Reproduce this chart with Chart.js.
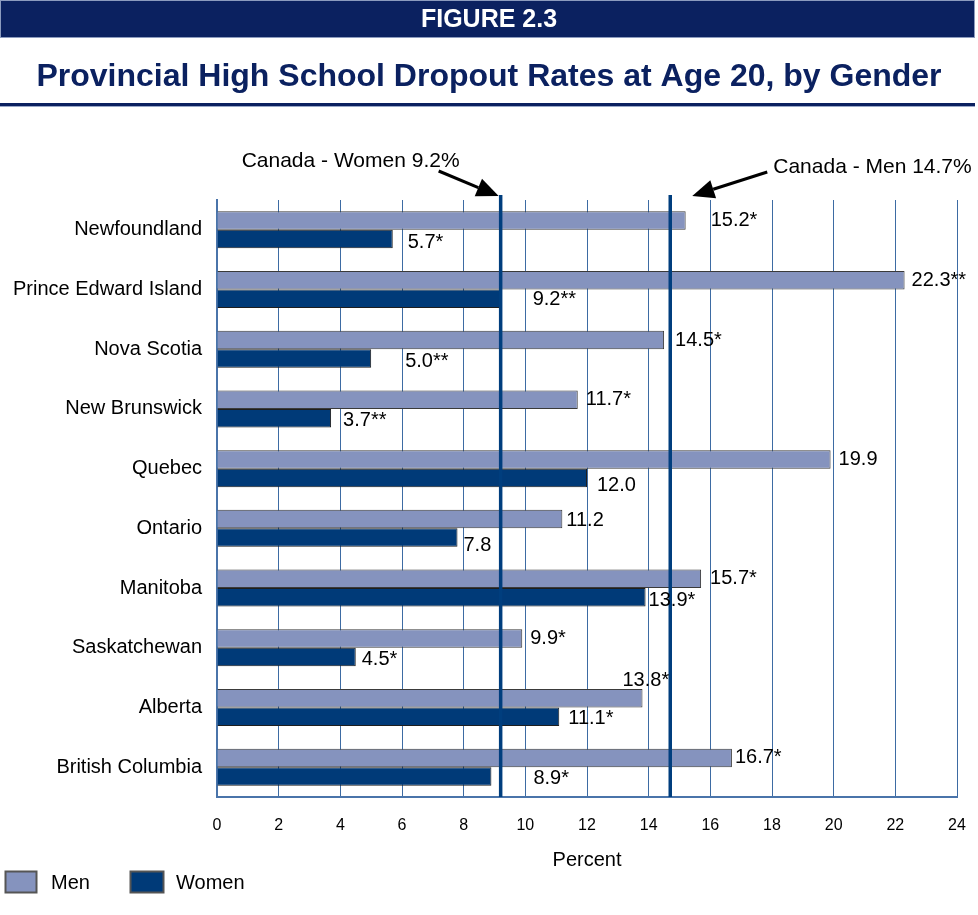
<!DOCTYPE html>
<html>
<head>
<meta charset="utf-8">
<title>Figure 2.3</title>
<script src="https://cdn.jsdelivr.net/npm/chart.js@4.4.0/dist/chart.umd.min.js"></script>
<style>
  html, body { margin: 0; padding: 0; background: #fff; }
  #wrap { width: 978px; height: 915px; }
</style>
</head>
<body>
<div id="wrap"><canvas id="chart" width="978" height="915"></canvas></div>
<script>
// Dropout rates at age 20, by province and gender (percent)
const provinces = [
    'Newfoundland', 'Prince Edward Island', 'Nova Scotia', 'New Brunswick', 'Quebec',
    'Ontario', 'Manitoba', 'Saskatchewan', 'Alberta', 'British Columbia'
];
const menRates = [15.2, 22.3, 14.5, 11.7, 19.9, 11.2, 15.7, 9.9, 13.8, 16.7];
const womenRates = [5.7, 9.2, 5.0, 3.7, 12.0, 7.8, 13.9, 4.5, 11.1, 8.9];
const menLabels = ['15.2*', '22.3**', '14.5*', '11.7*', '19.9', '11.2', '15.7*', '9.9*', '13.8*', '16.7*'];
const womenLabels = ['5.7*', '9.2**', '5.0**', '3.7**', '12.0', '7.8', '13.9*', '4.5*', '11.1*', '8.9*'];
const canadaMen = 14.7;
const canadaWomen = 9.2;
const percentTicks = [0, 2, 4, 6, 8, 10, 12, 14, 16, 18, 20, 22, 24];

const FONT = "'Liberation Sans', Arial, Helvetica, sans-serif";
const MEN_COLOR = '#8593BE';
const WOMEN_COLOR = '#003A78';
const NAVY = '#0B2160';
const LINE_BLUE = '#003E7E';

Chart.defaults.font.family = FONT;
Chart.defaults.color = '#000';

// label placement next to the bar ends: [dx, dy] per bar
const labelNudge = {
    men:   [[25, 0], [7, 0], [11, 0], [8, 0], [8, 0], [4, 1], [9, 0], [8, 0], [-20, -18], [3, 0]],
    women: [[15, 3], [32, 1], [34, 3], [12, 2], [10, 8], [6, 8], [3, 3], [6, 2], [9, 2], [42, 2]]
};

function drawArrow(ctx, x0, y0, x1, y1) {
    const ang = Math.atan2(y1 - y0, x1 - x0);
    const len = 22, half = 9.5;
    const bx = x1 - len * Math.cos(ang), by = y1 - len * Math.sin(ang);
    ctx.save();
    ctx.strokeStyle = '#000';
    ctx.fillStyle = '#000';
    ctx.lineWidth = 3;
    ctx.beginPath();
    ctx.moveTo(x0, y0);
    ctx.lineTo(bx, by);
    ctx.stroke();
    ctx.beginPath();
    ctx.moveTo(x1, y1);
    ctx.lineTo(bx + half * Math.sin(ang), by - half * Math.cos(ang));
    ctx.lineTo(bx - half * Math.sin(ang), by + half * Math.cos(ang));
    ctx.closePath();
    ctx.fill();
    ctx.restore();
}

const pageDecor = {
    id: 'pageDecor',
    beforeDraw(chart) {
        const ctx = chart.ctx;
        ctx.save();
        ctx.fillStyle = '#fff';
        ctx.fillRect(0, 0, chart.width, chart.height);

        // banner
        ctx.fillStyle = NAVY;
        ctx.fillRect(0, 0, 975, 37);
        ctx.strokeStyle = '#8C9BBE';
        ctx.lineWidth = 1;
        ctx.strokeRect(0.5, 0.5, 974, 37);
        ctx.fillStyle = '#fff';
        ctx.font = 'bold 25px ' + FONT;
        ctx.textAlign = 'center';
        ctx.textBaseline = 'middle';
        ctx.fillText('FIGURE 2.3', 489, 20);

        // title and rule
        ctx.fillStyle = NAVY;
        ctx.font = 'bold 32px ' + FONT;
        ctx.textBaseline = 'alphabetic';
        ctx.fillText('Provincial High School Dropout Rates at Age 20, by Gender', 489, 86);
        ctx.fillRect(0, 103, 975, 3);
        ctx.fillStyle = '#9AA8C8';
        ctx.fillRect(0, 106, 975, 1);
        ctx.restore();
    },
    afterDatasetsDraw(chart) {
        const ctx = chart.ctx;
        const x = chart.scales.x;
        const area = chart.chartArea;

        // national average lines
        ctx.save();
        ctx.strokeStyle = LINE_BLUE;
        ctx.lineWidth = 3.5;
        [canadaWomen, canadaMen].forEach(v => {
            const px = x.getPixelForValue(v);
            ctx.beginPath();
            ctx.moveTo(px, area.top - 5);
            ctx.lineTo(px, area.bottom);
            ctx.stroke();
        });
        ctx.restore();

        // value labels
        ctx.save();
        ctx.fillStyle = '#000';
        ctx.font = '20px ' + FONT;
        ctx.textAlign = 'left';
        ctx.textBaseline = 'middle';
        [[0, menLabels, labelNudge.men], [1, womenLabels, labelNudge.women]].forEach(([d, texts, nudge]) => {
            chart.getDatasetMeta(d).data.forEach((bar, i) => {
                ctx.fillText(texts[i], bar.x + nudge[i][0], bar.y + nudge[i][1]);
            });
        });
        ctx.restore();

        // callouts
        const wx = x.getPixelForValue(canadaWomen);
        const mx = x.getPixelForValue(canadaMen);
        drawArrow(ctx, wx - 62, 171, wx - 2, 196);
        drawArrow(ctx, mx + 97, 172, mx + 22, 196);
        ctx.save();
        ctx.fillStyle = '#000';
        ctx.font = '21px ' + FONT;
        ctx.textBaseline = 'alphabetic';
        ctx.fillText('Canada - Women ' + canadaWomen + '%', wx - 259, 167);
        ctx.fillText('Canada - Men ' + canadaMen + '%', mx + 103, 173);
        ctx.restore();
    },
    afterDraw(chart) {
        const ctx = chart.ctx;
        const area = chart.chartArea;
        ctx.save();
        ctx.fillStyle = '#000';
        ctx.font = '20px ' + FONT;
        ctx.textAlign = 'center';
        ctx.textBaseline = 'middle';
        ctx.fillText('Percent', (area.left + area.right) / 2, 860);

        // legend
        const items = [
            { box: [5.5, 871.5, 31, 21], tx: 51 },
            { box: [130.5, 871.5, 33, 21], tx: 176 }
        ];
        ctx.textAlign = 'left';
        chart.data.datasets.forEach((ds, i) => {
            const it = items[i];
            ctx.fillStyle = ds.backgroundColor;
            ctx.fillRect(...it.box);
            ctx.strokeStyle = '#555';
            ctx.lineWidth = 2;
            ctx.strokeRect(...it.box);
            ctx.fillStyle = '#000';
            ctx.fillText(ds.label, it.tx, 883);
        });
        ctx.restore();
    }
};

new Chart(document.getElementById('chart'), {
    type: 'bar',
    data: {
        labels: provinces,
        datasets: [
            {
                label: 'Men',
                data: menRates,
                backgroundColor: MEN_COLOR,
                borderColor: '#3A3A3A',
                borderWidth: 1
            },
            {
                label: 'Women',
                data: womenRates,
                backgroundColor: WOMEN_COLOR,
                borderColor: '#1E1E1E',
                borderWidth: 1
            }
        ]
    },
    options: {
        indexAxis: 'y',
        responsive: false,
        animation: false,
        categoryPercentage: 0.62,
        barPercentage: 1.0,
        layout: { padding: { top: 200, right: 21, left: 0, bottom: 0 } },
        plugins: {
            legend: { display: false },
            tooltip: { enabled: false }
        },
        scales: {
            x: {
                min: percentTicks[0],
                max: percentTicks[percentTicks.length - 1],
                afterBuildTicks(scale) {
                    scale.ticks = percentTicks.map(v => ({ value: v }));
                },
                afterFit(scale) { scale.height = 118; },
                // invisible tick marks keep the labels clear of the axis
                grid: { color: '#3D6BA3', lineWidth: 1, drawTicks: true, tickLength: 19, tickColor: 'rgba(0,0,0,0)' },
                border: { display: true, color: '#4A74AA', width: 2 },
                ticks: { font: { size: 16 }, color: '#000', padding: 0 }
            },
            y: {
                afterFit(scale) { scale.width = 217; },
                grid: { display: false },
                border: { display: true, color: '#4A74AA', width: 2 },
                ticks: { font: { size: 20 }, color: '#000', padding: 7 }
            }
        }
    },
    plugins: [pageDecor]
});
</script>
</body>
</html>
